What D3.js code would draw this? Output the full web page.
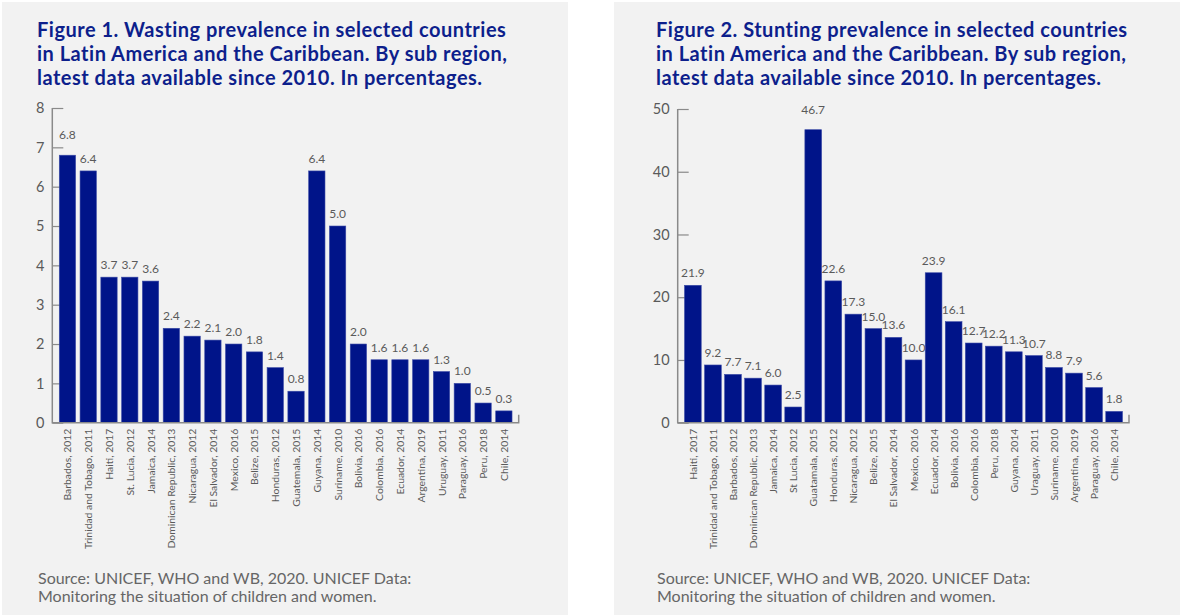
<!DOCTYPE html>
<html><head><meta charset="utf-8">
<script src="https://cdn.jsdelivr.net/npm/d3@7"></script>
<style>
html,body{margin:0;padding:0;background:#fff;}
svg{display:block;font-family:Lato, "Noto Sans", sans-serif;}
</style></head>
<body>
<svg id="c" width="1182" height="616"></svg>
<script>
// ---------- DATA ----------
const wastingCategories = ["Barbados, 2012","Trinidad and Tobago, 2011","Haiti, 2017","St. Lucia, 2012","Jamaica, 2014","Dominican Republic, 2013","Nicaragua, 2012","El Salvador, 2014","Mexico, 2016","Belize, 2015","Honduras, 2012","Guatemala, 2015","Guyana, 2014","Suriname, 2010","Bolivia, 2016","Colombia, 2016","Ecuador, 2014","Argentina, 2019","Uruguay, 2011","Paraguay, 2016","Peru, 2018","Chile, 2014"];
const wastingValues = [6.8,6.4,3.7,3.7,3.6,2.4,2.2,2.1,2.0,1.8,1.4,0.8,6.4,5.0,2.0,1.6,1.6,1.6,1.3,1.0,0.5,0.3];
const wastingTicks = [0,1,2,3,4,5,6,7,8];

const stuntingCategories = ["Haiti, 2017","Trinidad and Tobago, 2011","Barbados, 2012","Dominican Republic, 2013","Jamaica, 2014","St Lucia, 2012","Guatamala, 2015","Honduras, 2012","Nicaragua, 2012","Belize, 2015","El Salvador, 2014","Mexico, 2016","Ecuador, 2014","Bolivia, 2016","Colombia, 2016","Peru, 2018","Guyana, 2014","Uraguay, 2011","Suriname, 2010","Argentina, 2019","Paraguay, 2016","Chile, 2014"];
const stuntingValues = [21.9,9.2,7.7,7.1,6.0,2.5,46.7,22.6,17.3,15.0,13.6,10.0,23.9,16.1,12.7,12.2,11.3,10.7,8.8,7.9,5.6,1.8];
const stuntingTicks = [0,10,20,30,40,50];

const title1 = ["Figure 1. Wasting prevalence in selected countries","in Latin America and the Caribbean. By sub region,","latest data available since 2010. In percentages."];
const title2 = ["Figure 2. Stunting prevalence in selected countries","in Latin America and the Caribbean. By sub region,","latest data available since 2010. In percentages."];
const sourceLines = ["Source: UNICEF, WHO and WB, 2020. UNICEF Data:","Monitoring the situation of children and women."];

// ---------- DRAW ----------
const svg = d3.select("#c");
const BAR = "#001489", TITLE = "#0d1f8c", GREY = "#5a5a5a", AXIS = "#8a8a8a";

function panel(opt){
  const g = svg.append("g");
  g.append("rect").attr("x",opt.px).attr("y",2).attr("width",opt.pw).attr("height",613).attr("fill","#f2f2f2");
  const t = g.append("text").attr("fill",TITLE).attr("font-weight",700).attr("font-size",20).attr("letter-spacing",0.5);
  opt.title.forEach((l,i)=>t.append("tspan").attr("x",opt.tx).attr("y",37+i*24).text(l));
  const s = g.append("text").attr("fill","#666").attr("font-size",16);
  sourceLines.forEach((l,i)=>s.append("tspan").attr("x",opt.tx+1).attr("y",583.5+i*18.5).text(l));

  const x = d3.scaleBand().domain(opt.cats).range([opt.x0,opt.x1]).paddingInner(opt.pi).paddingOuter(opt.po);
  const y = d3.scaleLinear().domain([0,d3.max(opt.ticks)]).range([422.7,opt.yTop]);

  // y axis (ticks pointing inward)
  const ya = g.append("g").attr("transform",`translate(${opt.ax},0)`)
    .call(d3.axisRight(y).tickValues(opt.ticks).tickSize(11).tickFormat(""));
  ya.select(".domain").remove();
  ya.selectAll("line").attr("stroke",AXIS).attr("stroke-width",1.2);
  g.append("g").selectAll("text").data(opt.ticks).join("text")
    .attr("x",opt.ax-8).attr("y",d=>y(d)).attr("dy","0.36em").attr("text-anchor","end")
    .attr("font-size",14.5).attr("fill",GREY).text(d=>d);

  // bars
  g.append("g").selectAll("rect").data(opt.vals).join("rect")
    .attr("x",(d,i)=>x(opt.cats[i])).attr("width",x.bandwidth())
    .attr("y",d=>y(d)).attr("height",d=>y(0)-y(d))
    .attr("fill",BAR).attr("stroke","#3a4aa6").attr("stroke-width",0.6);

  // axis lines
  g.append("path").attr("d",`M${opt.ax},${y(d3.max(opt.ticks))}V${y(0)}H${opt.axEnd}V${y(0)-8}`)
    .attr("fill","none").attr("stroke",AXIS).attr("stroke-width",1.5);

  // value labels (highest bar label lifted clear of the top tick)
  const mx = d3.max(opt.vals);
  g.append("g").selectAll("text").data(opt.vals).join("text")
    .attr("x",(d,i)=>x(opt.cats[i])+x.bandwidth()/2)
    .attr("y",d=>y(d)-(d===mx?16:8))
    .attr("text-anchor","middle").attr("font-size",12).attr("fill",GREY)
    .text(d=>d.toFixed(1));

  // category labels
  g.append("g").selectAll("text").data(opt.cats).join("text")
    .attr("transform",d=>`translate(${x(d)+x.bandwidth()/2+4},${y(0)+6}) rotate(-90)`)
    .attr("text-anchor","end").attr("font-size",10.4).attr("fill",GREY).text(d=>d);
}

panel({px:2,pw:566,tx:37,title:title1,cats:wastingCategories,vals:wastingValues,ticks:wastingTicks,
  x0:57.2,x1:514.1,pi:0.215,po:0.1,ax:52.3,axEnd:518.7,yTop:108});
panel({px:614,pw:566,tx:656,title:title2,cats:stuntingCategories,vals:stuntingValues,ticks:stuntingTicks,
  x0:680.5,x1:1126.5,pi:0.167,po:0.2,ax:677.7,axEnd:1129,yTop:109});
</script>
</body></html>
